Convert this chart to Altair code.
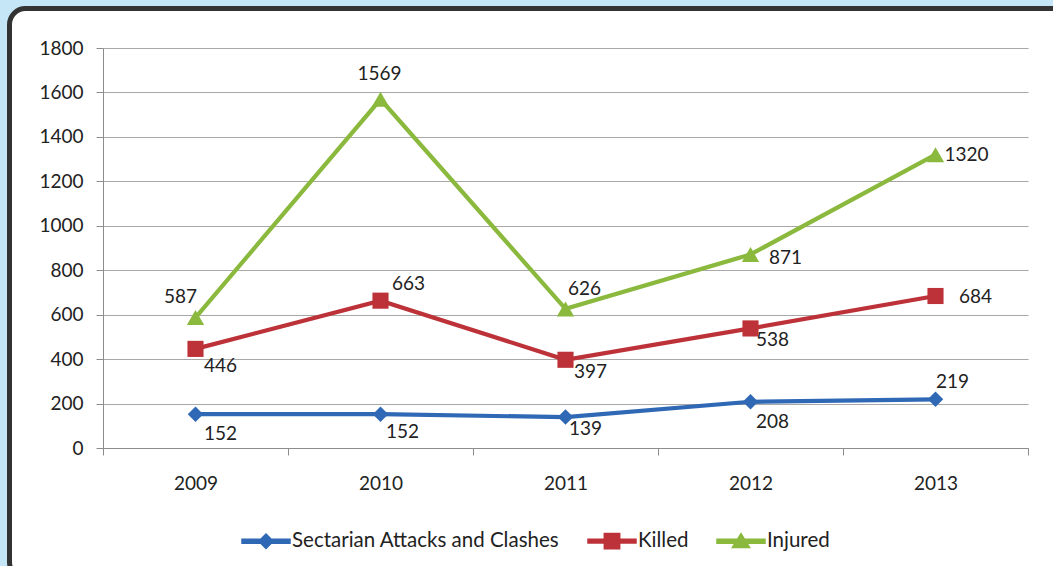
import altair as alt
import pandas as pd

# Yearly figures
years = ["2009", "2010", "2011", "2012", "2013"]
series_names = ["Sectarian Attacks and Clashes", "Killed", "Injured"]
sectarian = [152, 152, 139, 208, 219]
killed = [446, 663, 397, 538, 684]
injured = [587, 1569, 626, 871, 1320]
y_ticks = [0, 200, 400, 600, 800, 1000, 1200, 1400, 1600, 1800]

colors = ["#2f68b4", "#bd3238", "#8ab93e"]
FONT = "Lato"
TEXT = "#222222"
PAGE_BG = "#c5e6f7"

rows = []
for name, vals in zip(series_names, [sectarian, killed, injured]):
    for yr, v in zip(years, vals):
        rows.append({"series": name, "year": yr, "value": v})
df = pd.DataFrame(rows)

# pixel nudges for each value label (series index, year) -> (dx, dy)
label_nudge = {
    (0, "2009"): (25, 20), (0, "2010"): (22, 18), (0, "2011"): (20, 12),
    (0, "2012"): (22, 20), (0, "2013"): (17, -17),
    (1, "2009"): (25, 17), (1, "2010"): (28, -17), (1, "2011"): (25, 12),
    (1, "2012"): (22, 12), (1, "2013"): (40, 1),
    (2, "2009"): (-15, -21), (2, "2010"): (-1, -25), (2, "2011"): (19, -20),
    (2, "2012"): (35, 4), (2, "2013"): (31, 0),
}

W, H = 925, 400

x_enc = alt.X("year:N", sort=years,
              scale=alt.Scale(type="band", domain=years, paddingInner=0, paddingOuter=0),
              axis=alt.Axis(title=None, tickBand="extent", tickSize=7, tickColor="#8c8c8c",
                            domainColor="#8c8c8c", labelPadding=19, labelAngle=0,
                            labelFont=FONT, labelFontSize=19, labelColor=TEXT, grid=False))
y_enc = alt.Y("value:Q",
              scale=alt.Scale(domain=[0, 1800], nice=False),
              axis=alt.Axis(title=None, values=y_ticks, format="d", tickSize=7,
                            tickColor="#8c8c8c", domainColor="#8c8c8c",
                            gridColor="#a8a8a8", gridWidth=1.2,
                            labelPadding=13, labelFont=FONT, labelFontSize=19,
                            labelColor=TEXT))
color_scale = alt.Scale(domain=series_names, range=colors)

# legend symbols: a line stroke with the series marker on top
legend_paths = [
    "M-1,-0.08H1V0.08H-1Z M0,-0.3L0.3,0L0,0.3L-0.3,0Z",
    "M-1,-0.08H1V0.08H-1Z M-0.32,-0.32H0.32V0.32H-0.32Z",
    "M-1,-0.08H1V0.08H-1Z M0,-0.32L0.36,0.26H-0.36Z",
]
legend_style = dict(title=None, orient="none", direction="horizontal",
                    legendX=138, legendY=468, columns=3, padding=0,
                    symbolSize=2304, symbolOpacity=1,
                    labelFont=FONT, labelFontSize=20.5, labelColor=TEXT,
                    labelLimit=600, labelOffset=1, columnPadding=25)
# this layer only feeds the legend; its rows are filtered away so it draws no marks
legend_src = alt.Chart(df).transform_filter(alt.datum.value < 0).mark_point(filled=True).encode(
    x=x_enc, y=y_enc,
    color=alt.Color("series:N", scale=color_scale, legend=alt.Legend(**legend_style)),
    shape=alt.Shape("series:N", scale=alt.Scale(domain=series_names, range=legend_paths),
                    legend=alt.Legend(**legend_style)),
)

one_row = alt.Data(values=[{}])
# page colour around the card, then the card's rounded dark border
page_edge = alt.Chart(one_row).mark_rect(
    fill="transparent", stroke=PAGE_BG, strokeWidth=40, cornerRadius=36
).encode(x=alt.value(-113.5), x2=alt.value(W + 80), y=alt.value(-59.5), y2=alt.value(H + 150))
card_border = alt.Chart(one_row).mark_rect(
    fill="transparent", stroke="#333333", strokeWidth=5, cornerRadius=16
).encode(x=alt.value(-93.5), x2=alt.value(W + 60), y=alt.value(-39.5), y2=alt.value(H + 130))

lines = alt.Chart(df).mark_line(strokeWidth=4.2).encode(
    x=x_enc, y=y_enc,
    color=alt.Color("series:N", scale=color_scale, legend=None),
    detail="series:N",
)

shapes = ["diamond", "square", "triangle-up"]
sizes = [240, 260, 300]
markers = [
    alt.Chart(df).transform_filter(alt.datum.series == name)
    .mark_point(filled=True, opacity=1, shape=shp, size=sz)
    .encode(x=x_enc, y=y_enc, color=alt.Color("series:N", scale=color_scale, legend=None))
    for name, shp, sz in zip(series_names, shapes, sizes)
]

labels = []
for (si, yr), (dx, dy) in label_nudge.items():
    labels.append(
        alt.Chart(df)
        .transform_filter((alt.datum.series == series_names[si]) & (alt.datum.year == yr))
        .mark_text(dx=dx, dy=dy, font=FONT, fontSize=19, color=TEXT, baseline="middle")
        .encode(x=x_enc, y=y_enc, text="value:Q")
    )

chart = alt.layer(legend_src, page_edge, card_border, lines, *markers, *labels).properties(
    width=W, height=H,
    autosize=alt.AutoSizeParams(type="none"),
    padding={"left": 103, "top": 48, "right": 25, "bottom": 118},
    background="white",
).configure_view(strokeWidth=0)

chart.save("out.html", embed_options={"renderer": "svg", "actions": False})
